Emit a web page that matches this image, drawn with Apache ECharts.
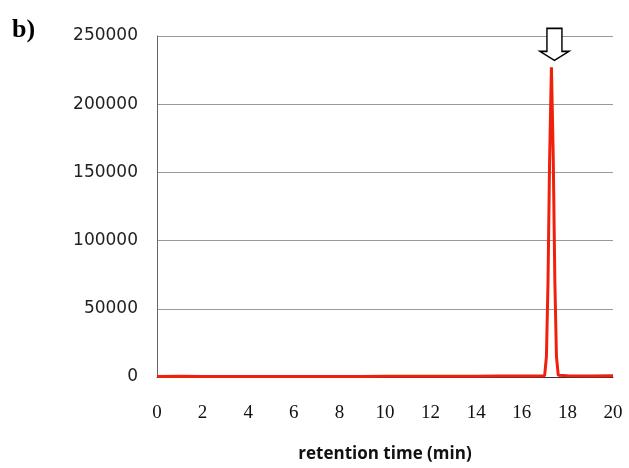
<!DOCTYPE html>
<html><head><meta charset="utf-8">
<script src="https://cdn.jsdelivr.net/npm/echarts@6/dist/echarts.min.js"></script>
<style>html,body{margin:0;padding:0;background:#fff}#c{width:629px;height:468px}</style>
</head><body><div id="c"></div>
<script>
const times = [0, 1, 2, 3, 4, 5, 6, 7, 8, 9, 10, 11, 12, 13, 14, 15, 16, 16.5, 17.0, 17.08, 17.15, 17.22, 17.3, 17.38, 17.45, 17.52, 17.6, 18, 19, 20];
const signal = [300, 500, 400, 350, 300, 300, 350, 400, 400, 450, 500, 500, 600, 500, 600, 700, 800, 800, 900, 15000, 70000, 160000, 227000, 160000, 70000, 15000, 1200, 900, 800, 900];
const xTicks = [0, 2, 4, 6, 8, 10, 12, 14, 16, 18, 20];
const yTicks = [0, 50000, 100000, 150000, 200000, 250000];
const peakTime = 17.3, peakValue = 227000;

const chart = echarts.init(document.getElementById('c'));
chart.setOption({
  animation: false,
  graphic: [{type:'text', left: 12, top: 17, style:{text:'b)', font:'bold 26px "Liberation Serif"', fill:'#000'}}],
  grid: {left: 157, right: 16, top: 36, bottom: 91},
  xAxis: {
    type: 'value', min: xTicks[0], max: xTicks[xTicks.length-1], interval: 2,
    name: 'retention time (min)', nameLocation: 'middle', nameGap: 69,
    nameTextStyle: {fontFamily: 'Open Sans', fontWeight: 'bold', fontSize: 17, color: '#111'},
    axisLine: {show: true, lineStyle: {color: '#333', width: 1}},
    axisTick: {show: false},
    splitLine: {show: false},
    axisLabel: {margin: 27, fontFamily: 'Liberation Serif', fontSize: 19, color: '#111', formatter: v => String(v)}
  },
  yAxis: {
    type: 'value', min: yTicks[0], max: yTicks[yTicks.length-1], interval: 50000,
    axisLine: {show: true, lineStyle: {color: '#666', width: 1}},
    axisTick: {show: false},
    splitLine: {show: true, lineStyle: {color: '#999', width: 1}},
    axisLabel: {margin: 19, fontFamily: 'DejaVu Sans', fontSize: 17, color: '#222', formatter: v => String(v)}
  },
  series: [{
    type: 'line', symbol: 'none',
    data: times.map((t, i) => [t, signal[i]]),
    lineStyle: {color: '#f0200c', width: 3},
    markPoint: {
      silent: true,
      data: [{coord: [peakTime, peakValue]}],
      symbol: 'path://M7,0 L22,0 L22,23 L29,23 L14.5,32 L0,23 L7,23 Z',
      symbolSize: [29, 32],
      symbolOffset: [3, -23],
      itemStyle: {color: '#fff', borderColor: '#000', borderWidth: 1.5},
      label: {show: false}
    }
  }]
});
</script></body></html>
